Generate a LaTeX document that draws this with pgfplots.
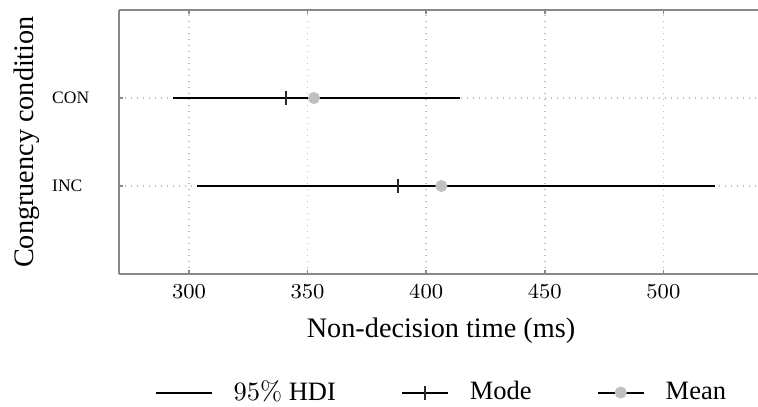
\RequirePackage{fix-cm}
\documentclass[border=0pt]{standalone}
\usepackage[no-math]{fontspec}
\setmainfont{Liberation Serif}
\usepackage{pgfplots}
\pgfplotsset{compat=1.18}
\definecolor{axisgray}{HTML}{888888}
\definecolor{gridgray}{HTML}{BBBBBB}
\definecolor{modegray}{HTML}{2A2A2A}
\definecolor{meangray}{HTML}{C0C0C0}
\pgfplotsset{
  hdilegend/.style={legend image code/.code={\draw[##1] (0pt,0pt) -- (22.4pt,0pt);}},
  marklegend/.style={legend image code/.code={\draw[black, line width=0.8pt] (0pt,0pt) -- (18.4pt,0pt); \draw[##1] plot coordinates {(9.2pt,0pt)};}},
}
\begin{document}
\begin{tikzpicture}
\useasboundingbox (-47.6pt,-53.2pt) rectangle (255.6pt,109.6pt);
\begin{axis}[
  at={(0pt,0pt)}, anchor=south west,
  width=257.6pt, height=105.6pt, scale only axis,
  xmin=270.5, xmax=542, ymin=-1, ymax=2,
  axis x line*=box, axis y line*=left,
  xtick={300,350,400,450,500},
  ytick={0,1}, yticklabels={INC,CON},
  grid=major, grid style={gridgray, dotted, line width=0.6pt},
  axis line style={axisgray, line width=0.7pt},
  major tick style={axisgray, line width=0.6pt},
  major tick length=1.6pt, tick align=inside,
  xticklabel style={font=\fontsize{8.5}{10}\selectfont, anchor=base, yshift=-9.7pt},
  yticklabel style={font=\fontsize{7}{8}\selectfont, anchor=west, inner sep=0pt, xshift=-26.9pt},
  xlabel={Non-decision time (ms)},
  ylabel={Congruency condition},
  xlabel style={font=\fontsize{11.3}{13}\selectfont, at={(axis description cs:0.5,-0.2398)}, anchor=base},
  ylabel style={font=\fontsize{11.3}{13}\selectfont, at={(axis description cs:-0.132,0.5)}, anchor=base},
  legend columns=3,
  legend style={draw=none, fill=none, at={(0.499,-0.449)}, anchor=center,
    font=\fontsize{10.6}{13}\selectfont, nodes={inner sep=0pt},
    /tikz/every odd column/.append style={column sep=8.4pt},
    /tikz/every even column/.append style={column sep=26pt}},
]
\addplot[black, line width=0.8pt, hdilegend]
  coordinates {(293.2,1) (414.1,1)};
\addlegendentry{$95\%$ HDI}
\addplot[black, line width=0.8pt, forget plot]
  coordinates {(303.5,0) (521.6,0)};
\addplot[only marks, mark=|, mark size=2.8pt, color=modegray, line width=0.85pt, marklegend]
  coordinates {(341,1) (388.1,0)};
\addlegendentry{Mode}
\addplot[only marks, mark=*, mark size=2.2pt, mark options={fill=meangray, draw=meangray}, marklegend]
  coordinates {(352.7,1) (406.4,0)};
\addlegendentry{Mean}
\end{axis}
\end{tikzpicture}
\end{document}
